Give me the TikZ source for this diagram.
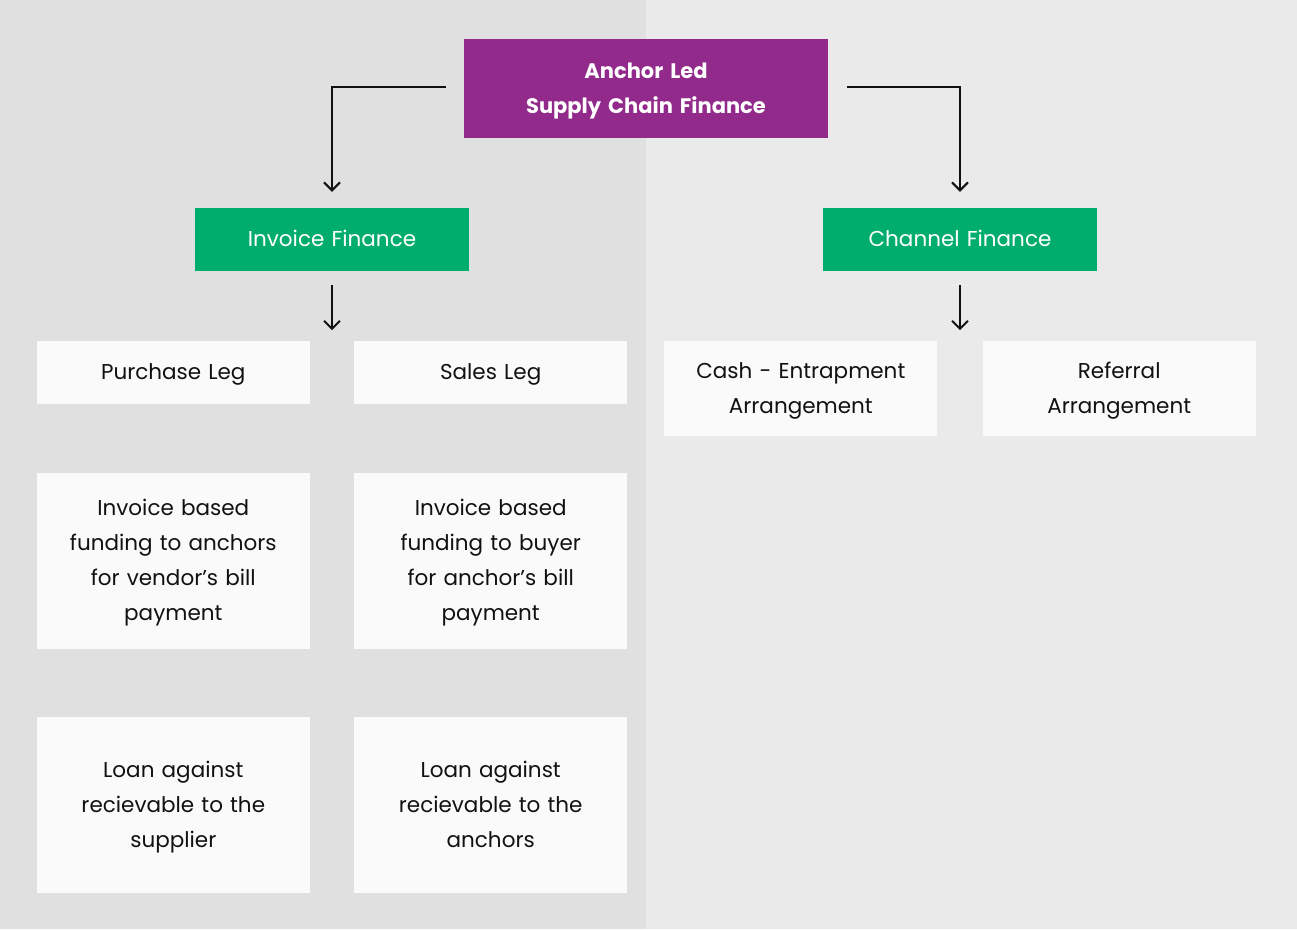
\documentclass[tikz,border=0pt]{standalone}
\usepackage{fontspec}
\setmainfont{Poppins}
\usetikzlibrary{arrows.meta, positioning, calc}
\definecolor{fundoesq}{HTML}{E0E0E0}
\definecolor{fundodir}{HTML}{EAEAEA}
\definecolor{roxoancora}{HTML}{922A8C}
\definecolor{verdefin}{HTML}{00AD6C}
\definecolor{caixabranca}{HTML}{FAFAFA}
\definecolor{tinta}{HTML}{111111}

\begin{document}
\begin{tikzpicture}[
        x=1pt, y=-1pt,
        font=\fontsize{21.5}{35}\selectfont,
        every node/.style={execute at begin node=\strut, execute at end node=\strut},
        raiz/.style={fill=roxoancora, text=white, font=\fontsize{21}{35}\selectfont\bfseries, align=center, text width=364pt, minimum height=99pt, inner sep=0pt},
        ramo/.style={fill=verdefin, text=white, align=center, text width=274pt, minimum height=63pt, inner sep=0pt},
        folha/.style={fill=caixabranca, text=tinta, align=center, text width=273pt, minimum height=#1, inner sep=0pt},
        folha/.default=63pt,
        seta/.style={-{Straight Barb[length=8pt, width=16pt]}, line width=2pt, draw=tinta}
    ]
        \fill[fundoesq] (0,0) rectangle (646,929);
        \fill[fundodir] (646,0) rectangle (1297,929);
        \useasboundingbox (0,0) rectangle (1297,929);

        \node[raiz] (root) at (646,88.5) {Anchor Led\\Supply Chain Finance};
        \node[ramo] (inv) at (332,239.5) {Invoice Finance};
        \node[ramo] (chan) at (960,239.5) {Channel Finance};

        \node[folha, below=70pt of inv.south, anchor=north east, xshift=-22pt] (purchase) {Purchase Leg};
        \node[folha, right=44pt of purchase] (sales) {Sales Leg};
        \node[folha=176pt, below=68pt of purchase] (vendor) {Invoice based\\funding to anchors\\for vendor’s bill\\payment};
        \node[folha=176pt, below=68pt of sales] (buyer) {Invoice based\\funding to buyer\\for anchor’s bill\\payment};
        \node[folha=176pt, below=68pt of vendor] (loansup) {Loan against\\recievable to the\\supplier};
        \node[folha=176pt, below=68pt of buyer] (loananc) {Loan against\\recievable to the\\anchors};

        \node[folha=95pt, below=70pt of chan.south, anchor=north east, xshift=-22.5pt] (cash) {Cash - Entrapment\\Arrangement};
        \node[folha=95pt, right=45pt of cash] (referral) {Referral\\Arrangement};

        \draw[seta, shorten >=16pt] ($(root.west)+(-18,-1.5)$) -| (inv.north);
        \draw[seta, shorten >=16pt] ($(root.east)+(19,-1.5)$) -| (chan.north);
        \draw[seta, shorten <=14pt, shorten >=11pt] (inv.south) -- (inv.south |- purchase.north);
        \draw[seta, shorten <=14pt, shorten >=11pt] (chan.south) -- (chan.south |- cash.north);
    \end{tikzpicture}
\end{document}
